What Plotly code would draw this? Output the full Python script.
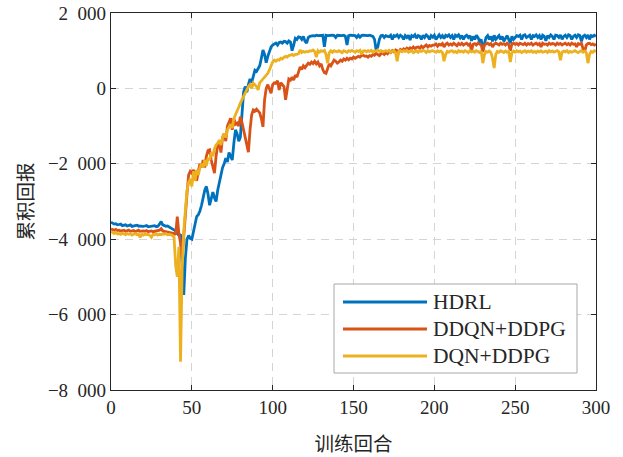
import plotly.graph_objects as go

# ---------------- data ----------------
series_names = ["HDRL", "DDQN+DDPG", "DQN+DDPG"]
series_colors = ["#0072BD", "#D95319", "#EDB120"]

hdrl = [
    -3550, -3580, -3600, -3590, -3620, -3610, -3600, -3640, -3630, -3620,
    -3650, -3640, -3620, -3660, -3650, -3640, -3630, -3650, -3660, -3650,
    -3660, -3650, -3640, -3670, -3660, -3650, -3660, -3640, -3670, -3660,
    -3600, -3530, -3620, -3650, -3660, -3650, -3680, -3700, -3720, -3760,
    -3780, -3850, -3900, -3870, -4900, -5480, -4500, -4000, -3900, -3980,
    -4000, -3800, -3600, -3400, -3350, -3250, -3100, -2900, -2700, -2600,
    -2800, -3100, -2900, -2750, -2900, -3000, -2700, -2500, -2300, -2100,
    -2000, -1850, -1950, -1700, -1800, -1900, -1450, -1100, -1200, -1400,
    -1300, -700, -100, 50, -100, 100, 250, 150, 350, 480,
    450, 550, 600, 800, 1020, 900, 680, 850, 1000, 1100,
    1150, 1180, 1200, 1150, 1220, 1230, 1200, 1250, 1240, 1200,
    1260, 1230, 1000, 1150, 1330, 1300, 1370, 1360, 1300, 1380,
    1250, 1200, 1350, 1380, 1400, 1400, 1390, 1410, 1400, 1410,
    1400, 1410, 1100, 1410, 1400, 1410, 1400, 1410, 1400, 1350,
    1410, 1400, 1410, 1400, 1410, 1380, 1150, 1400, 1410, 1400,
    1410, 1400, 1350, 1410, 1360, 1400, 1410, 1400, 1410, 1400,
    1410, 1400, 1380, 1300, 1020, 1100, 1300, 1400, 1410, 1350,
    1400, 1380, 1370, 1410, 1300, 1400, 1380, 1420, 1350, 1410,
    1380, 1300, 1400, 1350, 1410, 1280, 1400, 1370, 1420, 1330,
    1400, 1380, 1300, 1410, 1350, 1420, 1380, 1300, 1400, 1360,
    1410, 1300, 1380, 1420, 1350, 1400, 1320, 1410, 1380, 1420,
    1350, 1400, 1300, 1410, 1380, 1420, 1340, 1400, 1300, 1380,
    1410, 1350, 1400, 1260, 1380, 1300, 1410, 1350, 1250, 1300,
    1020, 1200, 1350, 1400, 1300, 1380, 1250, 1410, 1300, 1350,
    1400, 1300, 1380, 1250, 1350, 1400, 1300, 1200, 1380, 1300,
    1350, 1400, 1380, 1410, 1300, 1400, 1420, 1350, 1380, 1410,
    1300, 1400, 1380, 1420, 1350, 1400, 1300, 1410, 1380, 1260,
    1400, 1350, 1420, 1380, 1300, 1410, 1400, 1350, 1420, 1300,
    1380, 1410, 1350, 1420, 1400, 1300, 1380, 1410, 1350, 1420,
    1400, 1250, 1380, 1410, 1350, 1420, 1300, 1400, 1380, 1410,
    1380,
]

ddqn_ddpg = [
    -3730, -3750, -3760, -3740, -3770, -3760, -3780, -3770, -3760, -3790,
    -3770, -3760, -3790, -3780, -3770, -3800, -3780, -3760, -3790, -3780,
    -3780, -3790, -3770, -3800, -3790, -3780, -3800, -3790, -3780, -3770,
    -3760, -3720, -3780, -3790, -3800, -3790, -3810, -3820, -3840, -3850,
    -3880, -3400, -3850, -4100, -4500, -3900, -3200, -2800, -2300, -2200,
    -2250, -2160, -2300, -2450, -2200, -2000, -2100, -1900, -2100, -1800,
    -1650, -1630, -1900, -2100, -2250, -1800, -1500, -1450, -1700, -1300,
    -1200, -1400, -1000, -900, -790, -1100, -800, -950, -920, -1000,
    -750, -900, -1100, -1300, -1500, -1690, -1100, -700, -570, -600,
    -550, -600, -650, -800, -1020, -300, 0, 100, -50, -130,
    100, 150, 140, 200, -40, 150, 100, 50, -300, 0,
    250, 220, 300, 220, 350, 300, 430, 570, 500, 600,
    550, 620, 670, 640, 700, 660, 720, 650, 700, 600,
    650, 500, 420, 400, 550, 650, 600, 700, 750, 720,
    670, 700, 750, 720, 780, 750, 800, 760, 800, 780,
    830, 800, 820, 850, 830, 870, 880, 850, 860, 830,
    870, 850, 900, 880, 930, 900, 870, 920, 940, 900,
    950, 920, 980, 950, 1000, 970, 1020, 1000, 960, 1030,
    1000, 1050, 1020, 1070, 1040, 1080, 1050, 1100, 1060, 1090,
    1100, 1060, 1120, 1080, 1130, 1150, 1100, 1140, 1120, 1150,
    1150, 1180, 1120, 1170, 1150, 1190, 1100, 1170, 1200, 1150,
    1180, 1150, 1200, 1170, 1130, 1190, 1160, 1200, 1150, 1180,
    1200, 1150, 1180, 1000, 1170, 1190, 1150, 1200, 1180, 1150,
    970, 1150, 1180, 1200, 1160, 1190, 1100, 1170, 1200, 1180,
    1150, 1200, 1170, 1190, 1150, 1200, 1160, 1000, 1180, 1200,
    1170, 1190, 1150, 1200, 1180, 1160, 1200, 1150, 1190, 1170,
    1200, 1150, 1180, 1200, 1160, 1190, 1100, 1200, 1170, 1180,
    1150, 1200, 1170, 1190, 1180, 1150, 1200, 1170, 1190, 1150,
    1180, 1200, 1160, 1190, 1150, 1200, 1170, 1180, 1100, 1190,
    1170, 1200, 1050, 980, 1150, 1190, 1200, 1160, 1180, 1150,
    1170,
]

dqn_ddpg = [
    -3800, -3830, -3850, -3820, -3860, -3850, -3870, -3840, -3860, -3880,
    -3850, -3870, -3860, -3890, -3870, -3850, -3880, -3860, -3950, -3870,
    -3890, -3860, -3880, -3870, -3900, -3950, -3870, -3880, -3860, -3890,
    -3870, -3880, -3860, -3870, -3850, -3880, -3870, -3890, -3900, -3950,
    -4700, -5000, -4200, -7250, -4800, -3800, -3200, -2700, -2500, -2400,
    -2600, -2200, -2450, -2160, -2300, -2100, -2000, -2100, -1900, -2050,
    -1850, -1900, -1700, -1800, -1600, -1500, -1450, -1370, -1500, -1300,
    -1200, -1300, -1100, -1000, -950, -1050, -800, -700, -570, -500,
    -390, -300, -230, -100, -40, 50, 100, 0, 140, 100,
    50, -40, 150, 200, 250, 300, 350, 400, 490, 600,
    700, 750, 720, 760, 750, 800, 780, 830, 850, 830,
    870, 880, 900, 870, 900, 900, 920, 1020, 950, 980,
    960, 980, 970, 1000, 990, 1020, 980, 830, 1000, 960,
    1000, 980, 1010, 900, 670, 950, 1000, 960, 1000, 980,
    970, 1000, 980, 950, 1000, 990, 960, 1000, 980, 1010,
    990, 960, 1000, 980, 1010, 900, 990, 1000, 970, 1000,
    980, 1010, 960, 1000, 990, 1020, 980, 1000, 970, 990,
    1000, 980, 1010, 960, 990, 1000, 950, 720, 980, 1000,
    970, 1000, 980, 1010, 960, 990, 1000, 950, 980, 1000,
    960, 1000, 980, 1010, 990, 950, 1000, 970, 990, 1000,
    980, 960, 1000, 970, 990, 950, 720, 900, 980, 960,
    990, 1000, 960, 980, 950, 1000, 970, 990, 960, 1000,
    980, 950, 1000, 970, 990, 960, 1000, 980, 950, 990,
    670, 900, 980, 960, 990, 950, 800, 540, 900, 980,
    960, 1000, 970, 950, 990, 960, 980, 700, 950, 990,
    960, 1000, 970, 990, 950, 980, 1000, 960, 990, 970,
    1000, 960, 980, 950, 990, 970, 1000, 960, 980, 990,
    950, 1000, 970, 990, 960, 980, 1000, 970, 750, 960,
    990, 970, 1000, 950, 980, 960, 990, 1000, 970, 950,
    980, 1000, 960, 990, 950, 670, 900, 980, 960, 1000,
    980,
]

x_tick_vals = [0, 50, 100, 150, 200, 250, 300]
x_tick_text = ["0", "50", "100", "150", "200", "250", "300"]
y_tick_vals = [-8000, -6000, -4000, -2000, 0, 2000]
y_tick_text = ["\u22128\u2002000", "\u22126\u2002000", "\u22124\u2002000",
               "\u22122\u2002000", "0", "2\u2002000"]

x_title = "训练回合"
y_title = "累积回报"

# ---------------- figure ----------------
SERIF = "Liberation Serif, Times New Roman, serif"
CJK = "Noto Sans CJK SC, sans-serif"
AXC = "#262626"

fig = go.Figure()
for name, color, vals in zip(series_names, series_colors, [hdrl, ddqn_ddpg, dqn_ddpg]):
    fig.add_trace(go.Scatter(
        x=list(range(len(vals))), y=vals, mode="lines", name=name,
        line=dict(color=color, width=2.8), showlegend=False, hoverinfo="skip",
    ))

W, H = 623, 457
L, R, T, B = 111, 27, 13, 67
pw, ph = W - L - R, H - T - B

def px(xp):
    return (xp - L) / pw

def py(yp):
    return (H - B - yp) / ph

axis_common = dict(
    showline=True, linecolor=AXC, linewidth=1.2, mirror="ticks",
    ticks="inside", ticklen=5, tickwidth=1.1, tickcolor=AXC,
    showgrid=True, gridcolor="#d4d4d4", gridwidth=1.2, griddash="8px,6px",
    zeroline=False, automargin=False,
    tickfont=dict(family=SERIF, size=19, color=AXC),
)

fig.update_xaxes(
    range=[0, 300], tickvals=x_tick_vals, ticktext=x_tick_text,
    title=dict(text=x_title, font=dict(family=CJK, size=19.5, color=AXC), standoff=21),
    **axis_common,
)
fig.update_yaxes(
    range=[-8000, 2000], tickvals=y_tick_vals, ticktext=y_tick_text,
    title=dict(text=y_title, font=dict(family=CJK, size=19.5, color=AXC), standoff=9),
    **axis_common,
)

# legend box drawn in the lower right corner
shapes = [dict(type="rect", xref="paper", yref="paper",
               x0=px(334), x1=px(577), y0=py(373), y1=py(284),
               line=dict(color="#a8a8a8", width=1), fillcolor="white", layer="above")]
annotations = []
row_y = [302, 329, 356]
for name, color, ry in zip(series_names, series_colors, row_y):
    shapes.append(dict(type="line", xref="paper", yref="paper",
                       x0=px(343), x1=px(427), y0=py(ry), y1=py(ry),
                       line=dict(color=color, width=2.8), layer="above"))
    annotations.append(dict(xref="paper", yref="paper", x=px(431), y=py(ry),
                            text=name, showarrow=False, xanchor="left", yanchor="middle",
                            font=dict(family=SERIF, size=21.5, color=AXC)))

fig.update_layout(
    width=W, height=H, margin=dict(l=L, r=R, t=T, b=B),
    plot_bgcolor="white", paper_bgcolor="white",
    shapes=shapes, annotations=annotations, showlegend=False,
)

fig.write_html("out.html", config={"displayModeBar": False},
               post_script="document.body.style.margin='0';")
